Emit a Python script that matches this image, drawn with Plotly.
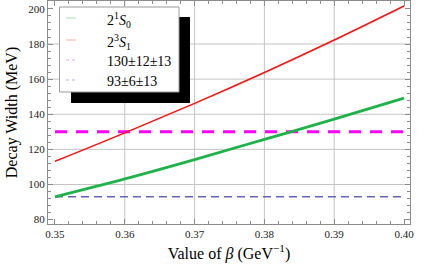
import plotly.graph_objects as go

# ---- data ----
beta = [0.35, 0.36, 0.37, 0.38, 0.39, 0.40]
width_2S0 = [93.0, 103.2, 114.2, 125.7, 137.2, 149.2]     # 2^1S_0 (green)
width_2S1 = [113.2, 129.4, 146.2, 163.8, 182.3, 201.7]    # 2^3S_1 (red)
exp_beta = [0.35, 0.40]
exp_130 = [130, 130]
exp_93 = [93, 93]
legend_labels = ["2<sup>1</sup><i>S</i><sub>0</sub>", "2<sup>3</sup><i>S</i><sub>1</sub>",
                 "130±12±13", "93±6±13"]
x_ticks = [0.35, 0.36, 0.37, 0.38, 0.39, 0.40]
y_ticks = [80, 100, 120, 140, 160, 180, 200]
x_grid = [0.36, 0.37, 0.38, 0.39]
y_grid = [100, 120, 140, 160, 180]

W, H = 436, 271
ML, MR, MT, MB = 48, 26, 1, 47
PW, PH = W - ML - MR, H - MT - MB

def px(x):
    return (x - ML) / PW

def py(y):
    return (MT + PH - y) / PH

FONT = "Liberation Serif"

fig = go.Figure()
fig.add_trace(go.Scatter(x=exp_beta, y=exp_93, mode="lines",
                         line=dict(color="#6464b4", width=1.6, dash="8px,5px"), showlegend=False))
fig.add_trace(go.Scatter(x=exp_beta, y=exp_130, mode="lines",
                         line=dict(color="#ff00ff", width=3, dash="12px,9px"), showlegend=False))
fig.add_trace(go.Scatter(x=beta, y=width_2S0, mode="lines", line_shape="spline",
                         line=dict(color="#1fb24a", width=2.8), showlegend=False))
fig.add_trace(go.Scatter(x=beta, y=width_2S1, mode="lines", line_shape="spline",
                         line=dict(color="#ff1010", width=1.6), showlegend=False))

shapes = []
for g in x_grid:
    shapes.append(dict(type="line", xref="x", yref="paper", x0=g, x1=g, y0=0, y1=1,
                       line=dict(color="#c4c4c4", width=1), layer="below"))
for g in y_grid:
    shapes.append(dict(type="line", xref="paper", yref="y", x0=0, x1=1, y0=g, y1=g,
                       line=dict(color="#c4c4c4", width=1), layer="below"))

# legend shadow and box
shapes.append(dict(type="rect", xref="paper", yref="paper", x0=px(71), x1=px(190),
                   y0=py(103), y1=py(17), fillcolor="black", line=dict(width=0), layer="above"))
shapes.append(dict(type="rect", xref="paper", yref="paper", x0=px(59.5), x1=px(179),
                   y0=py(92), y1=py(7), fillcolor="white",
                   line=dict(color="#9a9a9a", width=1), layer="above"))
sample_cols = ["#a0e0b0", "#ffa8a8", "#f0a0f0", "#b0b0f0"]
sample_dash = ["solid", "solid", "dot", "dot"]
rows_line = [18, 40, 60, 80]
rows_text = [20, 42, 61, 81]
annotations = []
for i, lab in enumerate(legend_labels):
    shapes.append(dict(type="line", xref="paper", yref="paper", x0=px(66), x1=px(76),
                       y0=py(rows_line[i]), y1=py(rows_line[i]),
                       line=dict(color=sample_cols[i], width=1, dash=sample_dash[i]), layer="above"))
    annotations.append(dict(xref="paper", yref="paper", x=px(105), y=py(rows_text[i]),
                            text=lab, showarrow=False, xanchor="left", yanchor="middle",
                            font=dict(family=FONT, size=14, color="black")))

axis_common = dict(showgrid=False, zeroline=False, showline=True, linecolor="#8c8c8c", linewidth=1,
                   mirror="ticks", ticks="inside", ticklen=5, tickcolor="#8c8c8c", automargin=False,
                   tickfont=dict(family=FONT, size=11, color="#222"))

fig.update_layout(
    width=W, height=H,
    margin=dict(l=ML, r=MR, t=MT, b=MB),
    plot_bgcolor="white", paper_bgcolor="white",
    font=dict(family=FONT),
    shapes=shapes, annotations=annotations,
    xaxis=dict(range=[0.349, 0.40086], tickvals=x_ticks, tickformat=".2f",
               minor=dict(ticks="inside", dtick=0.002, tick0=0.35, ticklen=3, tickcolor="#8c8c8c", showgrid=False),
               title=dict(text="Value of <i>β</i> (GeV<sup>−1</sup>)", font=dict(family=FONT, size=16, color="black"),
                          standoff=8),
               **axis_common),
    yaxis=dict(range=[77.5, 204.5], tickvals=y_ticks,
               minor=dict(ticks="inside", dtick=4, tick0=80, ticklen=3, tickcolor="#8c8c8c", showgrid=False),
               title=dict(text="Decay Width (MeV)", font=dict(family=FONT, size=16, color="black"),
                          standoff=6),
               **axis_common),
)

fig.write_html("out.html", config={"displayModeBar": False},
               post_script="document.body.style.margin='0';")
